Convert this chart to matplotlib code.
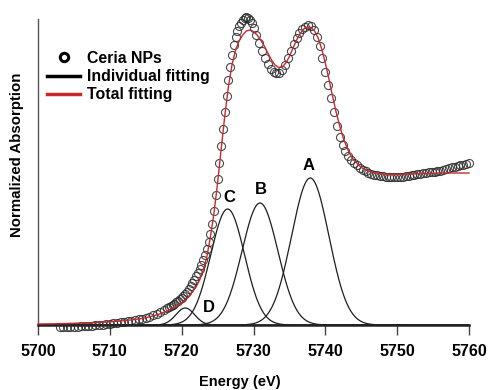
import numpy as np
import matplotlib.pyplot as plt
from matplotlib.lines import Line2D

plt.rcParams['font.family'] = ['Liberation Sans', 'DejaVu Sans']
plt.rcParams['font.weight'] = 'bold'

# Measured spectrum (arbitrary units, no y ticks in the figure)
energy_pre = np.arange(5703.0, 5718.01, 0.5)
mu_pre = [-2.0, -2.0, -1.8, -1.8, -1.6, -1.5, -1.2, -1.0, -0.8, -0.5, -0.2,
          0.2, 0.5, 0.8, 1.2, 1.7, 2.1, 2.6, 3.2, 3.8, 4.4, 5.0, 5.6, 6.3,
          7.2, 8.3, 9.6, 11.4, 13.2, 15.2, 17.2]
energy_edge = np.arange(5718.25, 5730.01, 0.25)
mu_edge = [18.5, 19.5, 20.5, 21.5, 23, 24.5, 26, 27.5, 29, 31, 33.5, 36,
           39, 42, 45.5, 49, 52.5, 56, 60.5, 65, 70, 76, 83, 91,
           101, 114, 130, 146, 162, 179, 196, 213, 229, 245, 258, 270,
           280, 288, 294, 299, 302.5, 305, 307, 308, 307.5, 305.5, 302, 297.5]
energy_post = np.arange(5730.4, 5760.01, 0.4)
mu_post = [290, 282, 274, 267, 261, 256, 253, 252, 252.5, 255,
           260, 267, 274, 281, 287, 292, 296, 298.5, 300, 299,
           295, 288, 279, 267, 253, 240, 227, 213, 199, 188,
           180, 174, 169, 165.5, 162.5, 160, 157.5, 155.5, 154, 152.5,
           151.5, 150.5, 150, 149.5, 149, 148.5, 148.5, 148, 148, 148,
           148.5, 148.5, 149, 149.5, 150, 150.5, 151, 151.5, 152, 152.5,
           153, 153, 153.5, 154, 154.5, 155.5, 156, 157, 158, 158.5,
           159.5, 160, 160.5, 161.5, 162]

energy = np.concatenate([energy_pre, energy_edge, energy_post])
mu = np.concatenate([mu_pre, mu_edge, mu_post])

# Total fit
fit_energy = [5700, 5702, 5704, 5706, 5708, 5710, 5712, 5714, 5715, 5716,
              5717, 5718, 5719, 5720, 5721, 5722, 5722.5, 5723, 5723.5, 5724,
              5724.5, 5725, 5725.5, 5726, 5726.5, 5727, 5727.5, 5728, 5728.5, 5729,
              5729.5, 5730, 5730.5, 5731, 5731.5, 5732, 5732.5, 5733, 5733.5, 5734,
              5734.5, 5735, 5735.5, 5736, 5736.5, 5737, 5737.5, 5738, 5738.5, 5739,
              5739.5, 5740, 5740.5, 5741, 5741.5, 5742, 5742.5, 5743, 5743.5, 5744,
              5745, 5746, 5747, 5748, 5750, 5752, 5754, 5756, 5758, 5760]
fit_total = [1.0, 1.2, 1.5, 2.0, 2.5, 3.2, 4.3, 6.0, 7.3, 9.0,
             11.2, 14.0, 17.5, 22.0, 28.5, 38.0, 45, 55, 68, 88,
             112, 142, 176, 209, 238, 260, 275, 284, 290, 294,
             295, 293.5, 290, 285, 279, 272, 265, 260, 257.5, 258,
             262, 268.5, 277, 285, 291.5, 296, 298, 297.5, 294, 287,
             276, 262, 246, 229, 213, 199, 187, 177.5, 170, 164.5,
             157.5, 154, 152, 151, 150.5, 151, 151.5, 152, 152, 152]

# Individual fitted peaks: label, centre (eV), height, width (eV)
peak_names = ['A', 'B', 'C', 'D']
peak_centres = [5737.9, 5730.9, 5726.4, 5720.5]
peak_heights = [147, 122, 116, 17]
peak_widths = [2.6, 2.5, 2.35, 1.3]
label_pos = [(5737.6, 159), (5731.05, 136), (5726.6, 128), (5723.8, 18)]

red = '#c62a2f'

fig = plt.figure(figsize=(4.88, 3.90), dpi=100)
ax = fig.add_axes([38 / 488, 1 - 325 / 390, 431 / 488, 306 / 390])

xg = np.linspace(5700, 5760, 1201)
for c, h, w in zip(peak_centres, peak_heights, peak_widths):
    ax.plot(xg, h * np.exp(-(xg - c) ** 2 / (2 * w ** 2)), color='#1e1e1e', lw=0.9, zorder=2)

ax.plot(energy, mu, 'o', mfc='none', mec='#2a2a2a', ms=5.8, mew=0.8,
        alpha=0.85, zorder=3, clip_on=False)
ax.plot(fit_energy, fit_total, color=red, lw=1.0, zorder=4, clip_on=False)

for name, (px, py) in zip(peak_names, label_pos):
    ax.text(px, py, name, fontsize=12, fontweight='bold', ha='center', va='center')

ax.set_xlim(5700, 5760)
ax.set_ylim(0, 306)
ax.set_xticks(range(5700, 5761, 10))
ax.set_yticks([])
ax.spines['top'].set_visible(False)
ax.spines['right'].set_visible(False)
ax.spines['left'].set_color('#555555')
ax.spines['left'].set_linewidth(1.0)
ax.spines['bottom'].set_color('#222222')
ax.spines['bottom'].set_linewidth(1.8)
ax.tick_params(axis='x', direction='out', length=7, width=1.0, color='#444444',
               pad=7, labelsize=11.5)

fig.text(240 / 488, 1 - 382 / 390, 'Energy (eV)', fontsize=10.5, fontweight='bold',
         ha='center', va='center')
fig.text(17 / 488, 1 - 155 / 390, 'Normalized Absorption', fontsize=10.8,
         fontweight='bold', rotation=90, ha='center', va='center')

handles = [
    Line2D([], [], ls='none', marker='o', mfc='none', mec='black', ms=6, mew=2.2),
    Line2D([], [], color='black', lw=2.5),
    Line2D([], [], color=red, lw=2.5),
]
ax.legend(handles, ['Ceria NPs', 'Individual fitting', 'Total fitting'],
          loc='upper left', bbox_to_anchor=(47 / 488, 1 - 51 / 390),
          bbox_transform=fig.transFigure, frameon=False, borderpad=0,
          borderaxespad=0, handlelength=2.1, handletextpad=0.45,
          labelspacing=0.2, prop={'weight': 'bold', 'size': 11.4})

fig.savefig('out.png', dpi=100)
